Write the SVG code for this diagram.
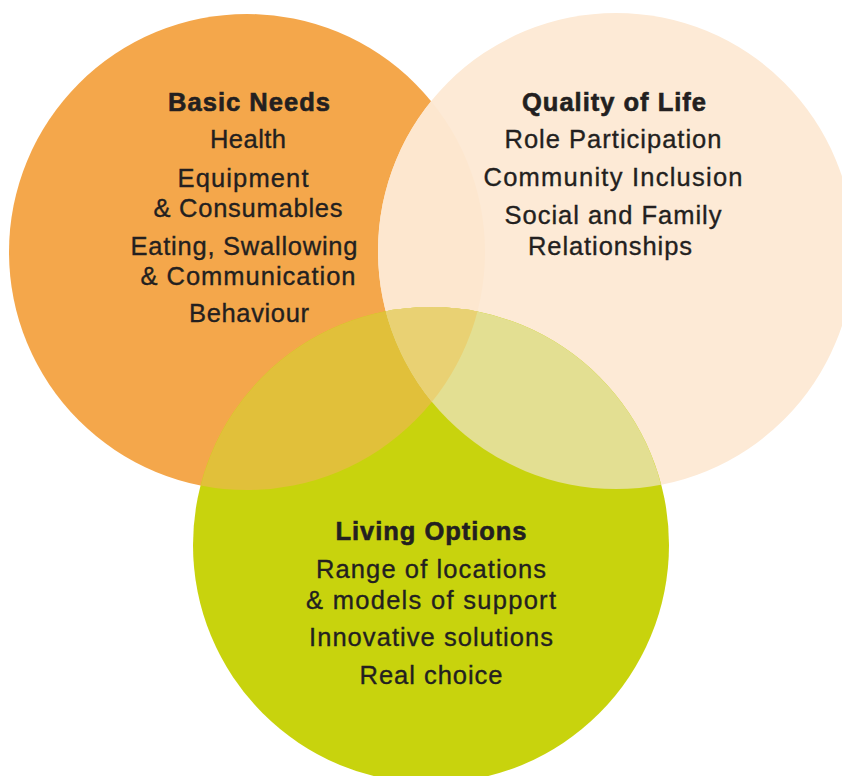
<svg xmlns="http://www.w3.org/2000/svg" width="842" height="776" viewBox="0 0 842 776">
  <style>
    .t { font-family: "Liberation Sans", Arial, sans-serif; font-size: 25.5px; fill: #231F20; stroke: #231F20; stroke-width: 0.35px; text-anchor: middle; }
    .h { font-weight: bold; stroke-width: 0.6px; }
  </style>
  <defs>
    <clipPath id="clipBasic"><circle cx="247" cy="252" r="238"/></clipPath>
    <clipPath id="clipQuality"><circle cx="616" cy="251" r="238"/></clipPath>
  </defs>
  <rect width="842" height="776" fill="#FFFFFF"/>

  <g id="basic-needs">
    <circle cx="247" cy="252" r="238" fill="#F4A74B"/>
    <text class="t h" x="249" y="111" textLength="162" lengthAdjust="spacing">Basic Needs</text>
    <text class="t" x="248" y="148" textLength="76" lengthAdjust="spacing">Health</text>
    <text class="t" x="243" y="187" textLength="131" lengthAdjust="spacing">Equipment</text>
    <text class="t" x="248" y="217" textLength="189" lengthAdjust="spacing">&amp; Consumables</text>
    <text class="t" x="244" y="255" textLength="227" lengthAdjust="spacing">Eating, Swallowing</text>
    <text class="t" x="248" y="285" textLength="215" lengthAdjust="spacing">&amp; Communication</text>
    <text class="t" x="249" y="322" textLength="120" lengthAdjust="spacing">Behaviour</text>
  </g>

  <g id="quality-of-life">
    <circle cx="616" cy="251" r="238" fill="#FDEAD6"/>
    <!-- where it covers Basic Needs -->
    <circle cx="616" cy="251" r="238" fill="#FDE7CF" clip-path="url(#clipBasic)"/>
    <text class="t h" x="614" y="111" textLength="184" lengthAdjust="spacing">Quality of Life</text>
    <text class="t" x="613" y="148" textLength="217" lengthAdjust="spacing">Role Participation</text>
    <text class="t" x="613" y="186" textLength="259" lengthAdjust="spacing">Community  Inclusion</text>
    <text class="t" x="613" y="224" textLength="217" lengthAdjust="spacing">Social and Family</text>
    <text class="t" x="610" y="255" textLength="164" lengthAdjust="spacing">Relationships</text>
  </g>

  <g id="living-options">
    <circle cx="431" cy="545" r="238" fill="#C8D30D"/>
    <!-- overlap tints -->
    <circle cx="431" cy="545" r="238" fill="#E1C03A" clip-path="url(#clipBasic)"/>
    <circle cx="431" cy="545" r="238" fill="#E3DF92" clip-path="url(#clipQuality)"/>
    <g clip-path="url(#clipBasic)">
      <circle cx="431" cy="545" r="238" fill="#E9D173" clip-path="url(#clipQuality)"/>
    </g>
    <text class="t h" x="431" y="540" textLength="191" lengthAdjust="spacing">Living Options</text>
    <text class="t" x="431" y="578" textLength="230" lengthAdjust="spacing">Range of locations</text>
    <text class="t" x="431" y="609" textLength="250" lengthAdjust="spacing">&amp; models of support</text>
    <text class="t" x="431" y="646" textLength="244" lengthAdjust="spacing">Innovative solutions</text>
    <text class="t" x="431" y="684" textLength="143" lengthAdjust="spacing">Real choice</text>
  </g>
</svg>
